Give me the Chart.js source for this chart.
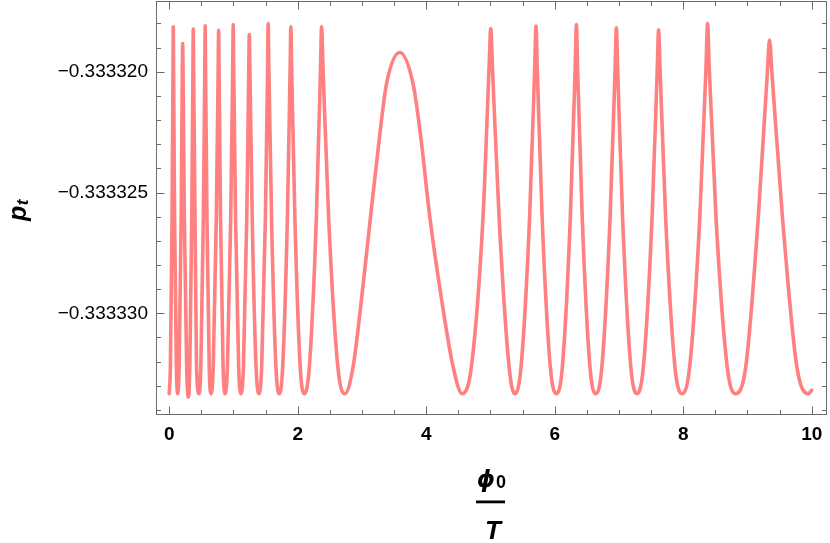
<!DOCTYPE html>
<html><head><meta charset="utf-8">
<script src="https://cdn.jsdelivr.net/npm/chart.js@4.4.1/dist/chart.umd.min.js"></script>
<style>html,body{margin:0;padding:0;background:#fff;}#wrap{width:830px;height:543px;}</style>
</head><body><div id="wrap"><canvas id="c" width="830" height="543"></canvas></div>
<script>
// phi0 / T values (x)
const phiOverT = [
 0, 0.019, 0.045, 0.060, 0.064, 0.068, 0.084, 0.112,
 0.132, 0.155, 0.187, 0.205, 0.210, 0.215, 0.236, 0.272,
 0.298, 0.321, 0.352, 0.370, 0.375, 0.380, 0.402, 0.426,
 0.464, 0.493, 0.532, 0.555, 0.561, 0.566, 0.588, 0.623,
 0.650, 0.686, 0.734, 0.763, 0.770, 0.776, 0.799, 0.839,
 0.868, 0.907, 0.958, 0.989, 0.997, 1.004, 1.033, 1.081,
 1.117, 1.156, 1.208, 1.239, 1.247, 1.256, 1.292, 1.352,
 1.397, 1.440, 1.498, 1.532, 1.541, 1.551, 1.593, 1.661,
 1.713, 1.767, 1.840, 1.883, 1.894, 1.906, 1.956, 2.039,
 2.101, 2.182, 2.291, 2.356, 2.372, 2.394, 2.481, 2.625,
 2.734, 2.863, 2.994, 3.134, 3.278, 3.382, 3.589, 3.796, 3.911, 4.056, 4.238, 4.418,
 4.558, 4.704, 4.885, 4.979, 5.005, 5.031, 5.134, 5.290,
 5.378, 5.477, 5.610, 5.689, 5.709, 5.728, 5.804, 5.931,
 6.026, 6.120, 6.244, 6.319, 6.338, 6.356, 6.428, 6.548,
 6.638, 6.735, 6.863, 6.941, 6.960, 6.979, 7.056, 7.184,
 7.280, 7.381, 7.516, 7.597, 7.617, 7.639, 7.726, 7.871,
 7.980, 8.101, 8.259, 8.355, 8.379, 8.405, 8.510, 8.684,
 8.815, 8.974, 9.169, 9.310, 9.344, 9.380, 9.544, 9.768,
 9.950, 10.000
];
// p_t values (y)
const pT = [
 -0.33333333, -0.3333322, -0.333326, -0.3333198, -0.33331814, -0.3333198, -0.333326, -0.3333322,
 -0.33333333, -0.3333322, -0.333326, -0.3333198, -0.33331883, -0.3333198, -0.333326, -0.3333322,
 -0.33333347, -0.3333322, -0.333326, -0.3333198, -0.33331823, -0.3333198, -0.333326, -0.3333322,
 -0.33333333, -0.3333322, -0.333326, -0.3333198, -0.33331810, -0.3333198, -0.333326, -0.3333322,
 -0.33333333, -0.3333322, -0.333326, -0.3333198, -0.33331828, -0.3333198, -0.333326, -0.3333322,
 -0.33333333, -0.3333322, -0.333326, -0.3333198, -0.33331804, -0.3333198, -0.333326, -0.3333322,
 -0.33333333, -0.3333322, -0.333326, -0.3333198, -0.33331846, -0.3333198, -0.333326, -0.3333322,
 -0.33333333, -0.3333322, -0.333326, -0.3333198, -0.33331800, -0.3333198, -0.333326, -0.3333322,
 -0.33333333, -0.3333322, -0.333326, -0.3333198, -0.33331814, -0.3333198, -0.333326, -0.3333322,
 -0.33333333, -0.3333322, -0.333326, -0.3333198, -0.33331814, -0.3333198, -0.333326, -0.3333322,
 -0.33333333, -0.3333322, -0.3333294, -0.333326, -0.3333226, -0.3333205, -0.3333192, -0.3333205, -0.3333226, -0.333326, -0.3333294, -0.3333322,
 -0.33333333, -0.3333322, -0.333326, -0.3333198, -0.33331821, -0.3333198, -0.333326, -0.3333322,
 -0.33333333, -0.3333322, -0.333326, -0.3333198, -0.33331811, -0.3333198, -0.333326, -0.3333322,
 -0.33333333, -0.3333322, -0.333326, -0.3333198, -0.33331804, -0.3333198, -0.333326, -0.3333322,
 -0.33333333, -0.3333322, -0.333326, -0.3333198, -0.33331818, -0.3333198, -0.333326, -0.3333322,
 -0.33333333, -0.3333322, -0.333326, -0.3333198, -0.33331826, -0.3333198, -0.333326, -0.3333322,
 -0.33333333, -0.3333322, -0.333326, -0.3333198, -0.33331800, -0.3333198, -0.333326, -0.3333322,
 -0.33333333, -0.3333322, -0.333326, -0.3333200, -0.33331869, -0.3333200, -0.333326, -0.3333322,
 -0.33333333, -0.33333318
];
const xMajorTicks = [0, 2, 4, 6, 8, 10];
const xTickLabels = ['0', '2', '4', '6', '8', '10'];
const xMinorTicks = [-0.5, 0.5, 1, 1.5, 2.5, 3, 3.5, 4.5, 5, 5.5, 6.5, 7, 7.5, 8.5, 9, 9.5];
const yMajorTicks = [-0.333330, -0.333325, -0.333320];
const yTickLabels = ['\u22120.333330', '\u22120.333325', '\u22120.333320'];
const yMinorTicks = [-0.333334, -0.333333, -0.333332, -0.333331, -0.333329, -0.333328, -0.333327, -0.333326,
                     -0.333324, -0.333323, -0.333322, -0.333321, -0.333319, -0.333318, -0.333317];

const points = phiOverT.map((x, i) => ({x: x, y: pT[i]}));

const framePlugin = {
  id: 'frame',
  afterDatasetsDraw(chart) {
    const {ctx, chartArea: a, scales: {x, y}} = chart;
    ctx.save();
    ctx.strokeStyle = '#6a6a6a';
    ctx.lineWidth = 1;
    const L = Math.round(a.left) + 0.5, R = Math.round(a.right) - 0.5;
    const T = Math.round(a.top) + 0.5, B = Math.round(a.bottom) - 0.5;
    ctx.strokeRect(L, T, R - L, B - T);
    ctx.beginPath();
    const tx = (v, len) => {
      const p = x.getPixelForValue(v);
      if (p < a.left || p > a.right) return;
      const px = Math.round(p) + 0.5;
      ctx.moveTo(px, B); ctx.lineTo(px, B - len);
      ctx.moveTo(px, T); ctx.lineTo(px, T + len);
    };
    const ty = (v, len) => {
      const p = y.getPixelForValue(v);
      if (p < a.top || p > a.bottom) return;
      const py = Math.round(p) + 0.5;
      ctx.moveTo(L, py); ctx.lineTo(L + len, py);
      ctx.moveTo(R, py); ctx.lineTo(R - len, py);
    };
    xMajorTicks.forEach(v => tx(v, 8));
    xMinorTicks.forEach(v => tx(v, 4.5));
    yMajorTicks.forEach(v => ty(v, 8));
    yMinorTicks.forEach(v => ty(v, 4.5));
    ctx.stroke();

    // axis titles
    ctx.fillStyle = '#000';
    // y title: p_t rotated
    ctx.save();
    ctx.translate(26, 221);
    ctx.rotate(-Math.PI / 2);
    ctx.textBaseline = 'alphabetic';
    ctx.textAlign = 'left';
    ctx.font = 'italic bold 25px "Liberation Sans", "DejaVu Sans"';
    ctx.fillText('p', 0, 0);
    const pw = ctx.measureText('p').width;
    ctx.font = 'italic bold 17px "Liberation Sans", "DejaVu Sans"';
    ctx.fillText('t', pw + 0.5, 2);
    ctx.restore();

    // x title: phi_0 / T
    ctx.save();
    ctx.textBaseline = 'alphabetic';
    ctx.textAlign = 'center';
    ctx.font = 'italic bold 23px "DejaVu Sans", "Liberation Sans"';
    ctx.fillText('\u03D5', 486, 487);
    ctx.font = 'bold 18px "Liberation Sans", "DejaVu Sans"';
    ctx.fillText('0', 501, 488);
    ctx.fillRect(476, 500.5, 29, 2.8);
    ctx.font = 'italic bold 26px "Liberation Sans", "DejaVu Sans"';
    ctx.fillText('T', 493, 539);
    ctx.restore();
    ctx.restore();
  }
};

new Chart(document.getElementById('c'), {
  type: 'line',
  data: {
    datasets: [{
      data: points,
      borderColor: '#ff8080',
      borderWidth: 3.6,
      pointRadius: 0,
      fill: false,
      cubicInterpolationMode: 'monotone',
      borderJoinStyle: 'round',
      borderCapStyle: 'round'
    }]
  },
  options: {
    responsive: false,
    animation: false,
    devicePixelRatio: 1,
    layout: {padding: {top: 1, right: 3, left: 0, bottom: 0}},
    plugins: {legend: {display: false}, tooltip: {enabled: false}},
    scales: {
      x: {
        type: 'linear',
        min: -0.205,
        max: 10.238,
        afterBuildTicks: s => { s.ticks = xMajorTicks.map(v => ({value: v})); },
        afterFit: s => { s.height = 128; s.paddingLeft = 0; s.paddingRight = 0; },
        grid: {display: false, drawTicks: false},
        border: {display: false},
        ticks: {
          autoSkip: false,
          maxRotation: 0,
          padding: 8,
          color: '#000',
          font: {family: '"Liberation Sans", Arial, sans-serif', size: 19, weight: 'bold'},
          callback: (v, i) => xTickLabels[i]
        }
      },
      y: {
        type: 'linear',
        min: -0.33333421,
        max: -0.33331707,
        afterBuildTicks: s => { s.ticks = yMajorTicks.map(v => ({value: v})); },
        afterFit: s => { s.width = 156; s.paddingTop = 0; s.paddingBottom = 0; },
        grid: {display: false, drawTicks: false},
        border: {display: false},
        ticks: {
          autoSkip: false,
          padding: 8,
          color: '#000',
          font: {family: '"Liberation Sans", Arial, sans-serif', size: 19},
          callback: (v, i) => yTickLabels[i]
        }
      }
    }
  },
  plugins: [framePlugin]
});
</script>
</body></html>
